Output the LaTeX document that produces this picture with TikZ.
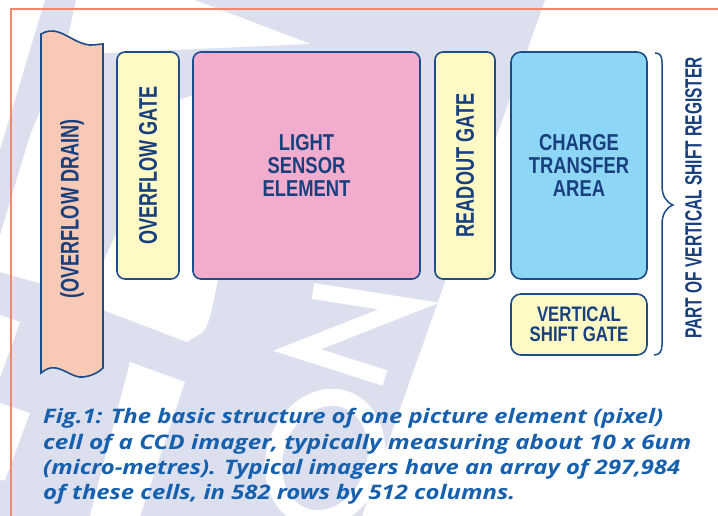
\documentclass[tikz,border=0pt]{standalone}
\usepackage{fontspec}
\newfontfamily\hlab[FakeStretch=0.8]{Liberation Sans Bold}
\newfontfamily\vlab[FakeStretch=0.71]{Liberation Sans Bold}
\newfontfamily\rlab[FakeStretch=0.66]{Liberation Sans Bold}
\newfontfamily\capfont{Open Sans}

\definecolor{wmark}{RGB}{220,224,238}
\definecolor{frameor}{RGB}{242,135,105}
\definecolor{edge}{RGB}{28,76,138}
\definecolor{ink}{RGB}{24,64,126}
\definecolor{capblue}{RGB}{22,96,174}
\definecolor{drainfill}{RGB}{248,202,182}
\definecolor{gatefill}{RGB}{254,249,197}
\definecolor{sensfill}{RGB}{242,172,206}
\definecolor{ctafill}{RGB}{142,214,245}

% set a caption line stretched to a given width (in pt)
\newlength\capw
\newcommand\fitline[2]{\settowidth\capw{#2}\scalebox{\fpeval{#1/\the\capw}}[1]{#2}}

\tikzset{
  cell/.style={draw=edge, line width=1.6pt, rounded corners=8pt, inner sep=0pt,
               text=ink, align=center},
  gatebox/.style={cell, fill=gatefill},
  hfont/.style={font=\hlab\fontsize{23}{23}\selectfont},
  smallh/.style={font=\hlab\fontsize{21}{20.5}\selectfont},
  vfont/.style={font=\vlab\fontsize{25.5}{25.5}\selectfont},
  capline/.style={anchor=base west, inner sep=0pt, text=capblue,
                  font=\capfont\bfseries\itshape\fontsize{20}{24}\selectfont},
}

\begin{document}
\begin{tikzpicture}[x=1pt,y=-1pt]
\useasboundingbox (0,0) rectangle (718,516);

% faint lettering in the background
\fill[wmark] (45,0) -- (76,0) -- (64,55) -- (30,135) -- (0,235) -- (0,150) -- cycle;
\fill[wmark] (195,0) -- (545,0) -- (362,516) -- (0,516) -- (0,272) -- (45,285)
             -- (45,60) -- (64,55) -- (311,44) -- cycle;
\fill[white] (103,262) -- (179,100) -- (193,95) -- (218,280) -- (213,303)
             .. controls (210,318) and (207,330) .. (200,334) -- (187,342) -- (103,310) -- cycle;
\fill[white] (0,315) -- (20,322) -- (0,378) -- cycle;
\fill[white] (0,403) -- (30,413) -- (5,480) -- (0,480) -- cycle;
\fill[white] (130,362) -- (185,382) -- (140,516) -- (90,516) -- cycle;
\draw[white, line width=16pt, line join=miter]
     (313,291) -- (409,306) -- (297,350) -- (385,378);
\draw[white, line width=17pt] (325,458) ellipse [x radius=50, y radius=62, rotate=-20];

% outer frame
\draw[frameor, line width=1.5pt] (11,516) -- (11,9) -- (718,9);

% overflow drain, a strip with wavy ends
\filldraw[fill=drainfill, draw=edge, line width=1.6pt]
  (41,34) .. controls (46,31) and (52,30) .. (58,32)
          .. controls (68,35) and (78,44) .. (90,45)
          .. controls (96,45) and (100,44) .. (103,44)
  -- (103,368)
          .. controls (99,372) and (92,376) .. (83,377)
          .. controls (74,378) and (66,370) .. (56,368)
          .. controls (50,367) and (46,369) .. (41,373)
  -- cycle;
\node[vfont, text=ink, rotate=90] (drain) at (72,209) {(OVERFLOW DRAIN)};

% cells of the pixel
\node[gatebox, minimum width=62pt, minimum height=227pt] (ovg) at (148,165.5)
  {\rotatebox{90}{\vlab\fontsize{25.5}{25.5}\selectfont OVERFLOW GATE}};
\node[cell, fill=sensfill, hfont, minimum width=227pt, minimum height=227pt] (sensor)
  at (306.5,165.5) {LIGHT\\SENSOR\\ELEMENT};
\node[gatebox, minimum width=60pt, minimum height=227pt] (rdg) at (465,165.5)
  {\rotatebox{90}{\vlab\fontsize{25.5}{25.5}\selectfont READOUT GATE}};
\node[cell, fill=ctafill, hfont, rounded corners=10pt, minimum width=136pt,
      minimum height=227pt] (cta) at (579,165.5) {CHARGE\\TRANSFER\\AREA};
\node[gatebox, smallh, rounded corners=10pt, minimum width=136pt, minimum height=61pt]
  (vsg) at (579,324.5) {VERTICAL\\SHIFT GATE};

% brace grouping the shift register parts
\coordinate (brtop) at (655,53);
\coordinate (brtip) at (673,205);
\coordinate (brbot) at (654,355);
\draw[edge, line width=1.5pt]
  (brtop) .. controls (660,53) and (662,56) .. (662,62) -- (662,185)
          .. controls (662,196) and (666,202) .. (brtip)
          .. controls (666,208) and (662,214) .. (662,225) -- (662,345)
          .. controls (662,352) and (659,355) .. (brbot);
\node[rotate=90, text=ink, font=\rlab\fontsize{23.5}{23.5}\selectfont]
  (psr) at (693.5,198) {PART OF VERTICAL SHIFT REGISTER};

% caption
\node[capline] (cap1) at (43,423) {\fitline{620}{Fig.1: The basic structure of one picture element (pixel)}};
\node[capline] (cap2) at (43,449) {\fitline{648}{cell of a CCD imager, typically measuring about 10 x 6um}};
\node[capline] (cap3) at (43,474) {\fitline{637}{(micro-metres). Typical imagers have an array of 297,984}};
\node[capline] (cap4) at (43,499) {\fitline{472}{of these cells, in 582 rows by 512 columns.}};
\end{tikzpicture}
\end{document}
